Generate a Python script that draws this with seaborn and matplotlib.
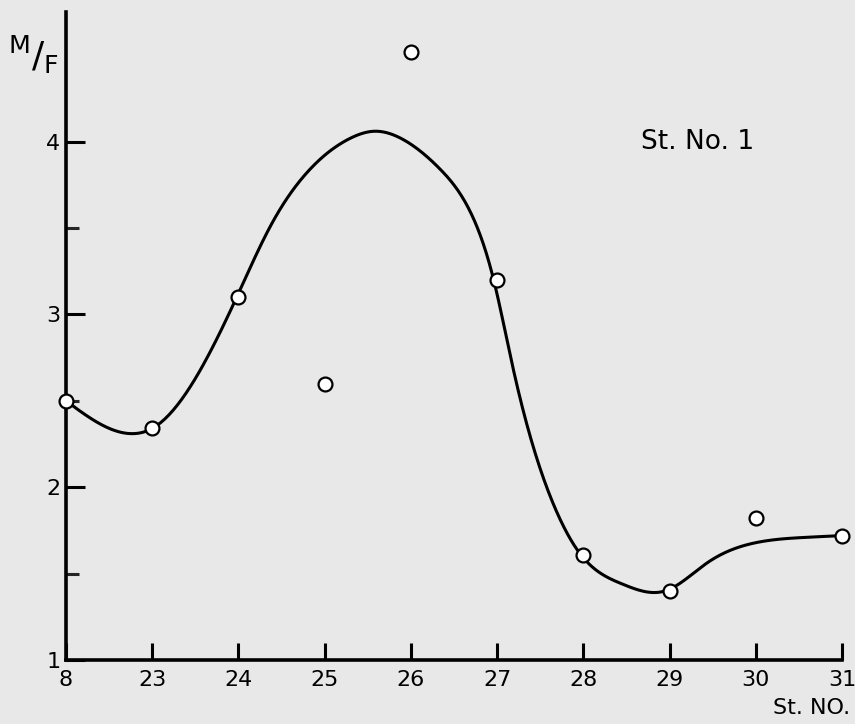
import numpy as np
import pandas as pd
import matplotlib
matplotlib.use("Agg")
import matplotlib.pyplot as plt
import seaborn as sns

# ---- data ----
station_labels = ["8", "23", "24", "25", "26", "27", "28", "29", "30", "31"]
station_pos = list(range(len(station_labels)))
m_f_ratio = [2.50, 2.34, 3.10, 2.60, 4.52, 3.20, 1.61, 1.40, 1.82, 1.72]

# hand-drawn fitted curve, read along its path (x in station positions)
curve_x = [0.00, 0.75, 1.00, 1.98, 2.37, 2.83, 3.30, 3.58, 3.88, 4.34,
           4.73, 4.96, 5.18, 5.68, 5.97, 6.45, 6.95, 7.43, 8.01,
           8.59, 9.00]
curve_y = [2.50, 2.31, 2.34, 3.10, 3.51, 3.84, 4.02, 4.06, 4.02, 3.84,
           3.55, 3.20, 2.70, 1.87, 1.61, 1.44, 1.40, 1.56, 1.68,
           1.71, 1.72]

y_ticks = [1, 2, 3, 4]
y_tick_labels = ["1", "2", "3", "4"]
y_minor = [1.5, 2.5, 3.5]


def natural_spline(xs, ys, n=40):
    """Smooth rendering of the hand-drawn curve through its read-off knots."""
    x = np.asarray(xs, float)
    y = np.asarray(ys, float)
    k = len(x)
    h = np.diff(x)
    A = np.zeros((k, k))
    b = np.zeros(k)
    A[0, 0] = 1
    A[-1, -1] = 1
    for i in range(1, k - 1):
        A[i, i - 1] = h[i - 1]
        A[i, i] = 2 * (h[i - 1] + h[i])
        A[i, i + 1] = h[i]
        b[i] = 6 * ((y[i + 1] - y[i]) / h[i] - (y[i] - y[i - 1]) / h[i - 1])
    M = np.linalg.solve(A, b)
    ox, oy = [], []
    for i in range(k - 1):
        t = np.linspace(x[i], x[i + 1], n, endpoint=False)
        a = x[i + 1] - t
        c = t - x[i]
        s = (M[i] * a**3 + M[i + 1] * c**3) / (6 * h[i]) \
            + (y[i] / h[i] - M[i] * h[i] / 6) * a \
            + (y[i + 1] / h[i] - M[i + 1] * h[i] / 6) * c
        ox.append(t)
        oy.append(s)
    ox.append([x[-1]])
    oy.append([y[-1]])
    return np.concatenate(ox), np.concatenate(oy)


sx, sy = natural_spline(curve_x, curve_y)
curve_df = pd.DataFrame({"x": sx, "y": sy})
pts_df = pd.DataFrame({"x": station_pos, "y": m_f_ratio})

bg = "#e8e8e8"
sns.set_theme(style="white")
plt.rcParams["font.family"] = ["DejaVu Sans"]
plt.rcParams["mathtext.fontset"] = "dejavusans"

fig = plt.figure(figsize=(8.55, 7.24), dpi=100, facecolor=bg)
W, H = 855, 724
left, right, top, bottom = 66, 842, 12, 660
ax = fig.add_axes([left / W, 1 - bottom / H, (right - left) / W, (bottom - top) / H])
ax.set_facecolor(bg)

sns.lineplot(data=curve_df, x="x", y="y", sort=False, estimator=None,
             color="black", linewidth=2.2, ax=ax, zorder=2)
sns.scatterplot(data=pts_df, x="x", y="y", marker="o", s=100,
                facecolor="white", edgecolor="black", linewidth=1.6,
                ax=ax, zorder=3, clip_on=False)

ax.set_xlim(0, 9)
ax.set_ylim(1, 4.75)
ax.set_xticks(station_pos)
ax.set_xticklabels(station_labels)
ax.set_yticks(y_ticks)
ax.set_yticklabels(y_tick_labels)
ax.set_yticks(y_minor, minor=True)
ax.set_xlabel("")
ax.set_ylabel("")

for s in ["top", "right"]:
    ax.spines[s].set_visible(False)
for s in ["left", "bottom"]:
    ax.spines[s].set_linewidth(2.6)
    ax.spines[s].set_color("black")

ax.tick_params(axis="x", direction="in", length=12, width=2.2, pad=7,
               labelsize=16, colors="black", bottom=True)
ax.tick_params(axis="y", which="major", direction="in", length=14, width=2.2,
               pad=4, labelsize=16, colors="black", left=True)
ax.tick_params(axis="y", which="minor", direction="in", length=9, width=2.2,
               left=True)

ax.text(6.67, 4.0, "St. No. 1", fontsize=19, ha="left", va="center", color="black")

fig.text(850 / W, 1 - 708 / H, "St. NO.", fontsize=16, ha="right", va="center", color="black")
fig.text(33 / W, 1 - 55 / H, r"$^{\mathrm{M}}/_{\mathrm{F}}$", fontsize=26,
         ha="center", va="center", color="black")

fig.savefig("out.png", dpi=100, facecolor=bg)
